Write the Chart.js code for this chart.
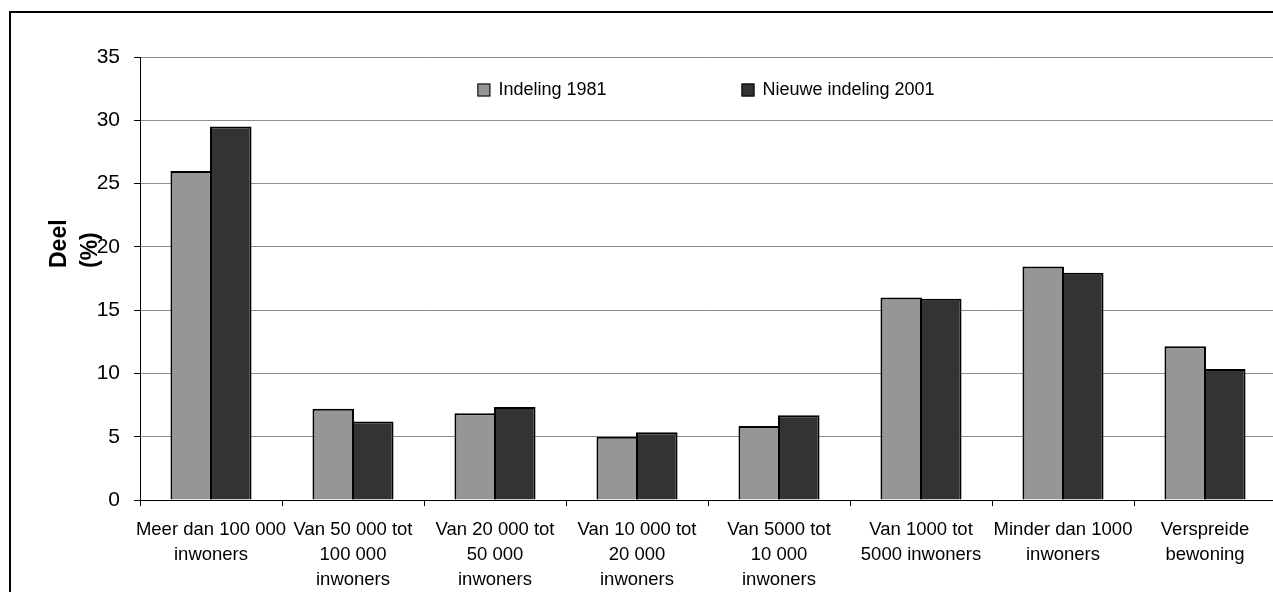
<!DOCTYPE html>
<html>
<head>
<meta charset="utf-8">
<script src="https://cdn.jsdelivr.net/npm/chart.js@4.4.0/dist/chart.umd.min.js"></script>
<style>
  html, body { margin: 0; padding: 0; background: #fff; overflow: hidden; }
  #frame { position: absolute; left: 9px; top: 11px; width: 2000px; height: 2000px; border-top: 2px solid #000; border-left: 2px solid #000; }
  #chart { position: absolute; left: 0; top: 0; }
</style>
</head>
<body>
<div id="frame"></div>
<canvas id="chart" width="1300" height="592"></canvas>
<script>
// categories (multi-line tick labels, as in the original)
const categories = [
  ['Meer dan 100 000', 'inwoners'],
  ['Van 50 000 tot', '100 000', 'inwoners'],
  ['Van 20 000 tot', '50 000', 'inwoners'],
  ['Van 10 000 tot', '20 000', 'inwoners'],
  ['Van 5000 tot', '10 000', 'inwoners'],
  ['Van 1000 tot', '5000 inwoners'],
  ['Minder dan 1000', 'inwoners'],
  ['Verspreide', 'bewoning']
];
const seriesNames = ['Indeling 1981', 'Nieuwe indeling 2001'];
const indeling1981 = [26.0, 7.2, 6.85, 5.0, 5.85, 16.0, 18.45, 12.15];
const indeling2001 = [29.5, 6.2, 7.35, 5.35, 6.7, 15.9, 17.95, 10.35];
const yMin = 0, yMax = 35, yStep = 5;
const yTitleLines = ['Deel', '(%)'];

const FONT = 'Arial, "Liberation Sans", sans-serif';

// legend inside the plot + rotated y title (Excel style)
const overlayText = {
  id: 'overlayText',
  afterDraw(chart) {
    const ctx = chart.ctx;
    const area = chart.chartArea;
    ctx.save();

    // legend
    ctx.font = '18px ' + FONT;
    ctx.textBaseline = 'middle';
    ctx.textAlign = 'left';
    const sets = chart.data.datasets;
    const box = 13, textGap = 8, gap = 135;
    const widths = sets.map(d => ctx.measureText(d.label).width);
    let total = 0;
    widths.forEach((w, i) => { total += box + textGap + w + (i < widths.length - 1 ? gap : 0); });
    let x = (area.left + area.right) / 2 - total / 2 - 2;
    const y = area.top + 33;
    sets.forEach((d, i) => {
      ctx.fillStyle = d.backgroundColor;
      ctx.fillRect(x, y - 6.5, box, box);
      ctx.strokeStyle = '#000';
      ctx.lineWidth = 1;
      ctx.strokeRect(x + 0.5, y - 6, box - 1, box - 1);
      ctx.fillStyle = '#000';
      ctx.fillText(d.label, x + box + textGap, y);
      x += box + textGap + widths[i] + gap;
    });

    // y axis title
    ctx.font = 'bold 23px ' + FONT;
    ctx.textBaseline = 'alphabetic';
    ctx.textAlign = 'left';
    ctx.fillStyle = '#000';
    const baseX = [66, 97];
    yTitleLines.forEach((t, i) => {
      ctx.save();
      ctx.translate(baseX[i], 268);
      ctx.rotate(-Math.PI / 2);
      ctx.fillText(t, 0, 0);
      ctx.restore();
    });
    ctx.restore();
  }
};

new Chart(document.getElementById('chart'), {
  type: 'bar',
  data: {
    labels: categories,
    datasets: [
      {
        label: seriesNames[0],
        data: indeling1981,
        backgroundColor: '#969696',
        borderColor: '#000',
        borderWidth: 2
      },
      {
        label: seriesNames[1],
        data: indeling2001,
        backgroundColor: '#333333',
        borderColor: '#000',
        borderWidth: 2
      }
    ]
  },
  options: {
    responsive: false,
    animation: false,
    devicePixelRatio: 1,
    // bars overlap by their border width, so neighbours share one outline
    categoryPercentage: 0.557,
    barPercentage: 1.05,
    layout: { padding: { top: 57, right: 24, left: 0, bottom: 0 } },
    plugins: {
      legend: { display: false },
      tooltip: { enabled: false }
    },
    scales: {
      x: {
        grid: {
          display: true,
          drawOnChartArea: false,
          drawTicks: true,
          tickLength: 6,
          color: '#000'
        },
        border: { color: '#000', width: 1 },
        ticks: {
          color: '#000',
          maxRotation: 0,
          autoSkip: false,
          padding: 11,
          font: { family: FONT, size: 18.5, lineHeight: 1.35 }
        },
        afterFit(scale) { scale.height = 92; }
      },
      y: {
        min: yMin,
        max: yMax,
        grid: {
          color: '#8c8c8c',
          lineWidth: 1,
          tickColor: '#000',
          tickLength: 6
        },
        border: { color: '#000', width: 1 },
        ticks: {
          stepSize: yStep,
          color: '#000',
          padding: 14,
          font: { family: FONT, size: 21 }
        },
        afterFit(scale) { scale.width = 140; }
      }
    }
  },
  plugins: [overlayText]
});
</script>
</body>
</html>
